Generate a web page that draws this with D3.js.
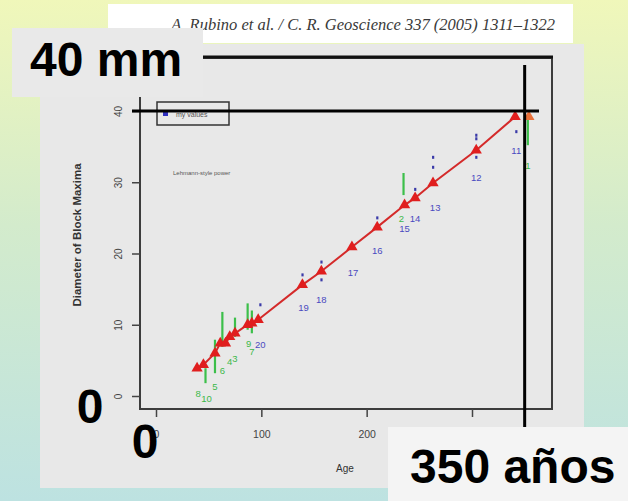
<!DOCTYPE html>
<html><head><meta charset="utf-8">
<script src="https://cdn.jsdelivr.net/npm/d3@7"></script>
<style>html,body{margin:0;padding:0;overflow:hidden;}svg{display:block;}</style>
</head><body>
<script>
// ---- data ----
const fitAge  = [39,45,56,61,66,70,75,87,91,97,139,157,186,210,236,246,263,304,341];
const fitDiam = [3.9,4.4,6.0,7.4,7.4,8.3,8.8,10.0,10.2,10.7,15.6,17.5,20.9,23.7,26.8,27.8,29.9,34.5,39.2];
const extraAge = [354];
const extraDiam = [39.2];
const greenAge = [353,235,47,56,63,75,87,91];
const greenTop = [39.2,31.3,3.9,7.9,11.8,11.0,13.0,12.0];
const greenBot = [35.2,28.2,1.8,3.2,6.9,8.3,9.3,8.8];
const blueLabels = ["11","12","13","14","15","16","17","18","19","20"];
const blueLabAge = [342,304,265,246,236,210,187,157,140,99];
const blueLabDiam = [34.5,30.6,26.4,24.9,23.5,20.4,17.4,13.5,12.4,7.2];
const greenLabels = ["1","2","3","4","5","6","7","8","9","10"];
const greenLabAge = [353,233,75,70,56,63,91,40,88,48];
const greenLabDiam = [32.4,24.9,5.3,4.8,1.3,3.6,6.2,0.4,7.4,-0.3];
const dotAge = [304,304,304,263,263,210,157,157,139,342,246,99];
const dotDiam = [36.6,36.1,33.5,33.5,32.1,25.0,18.8,16.3,17.0,37.1,29.0,12.8];
const xTicks = [0,100,200,300];
const yTicks = [0,10,20,30,40];
const markAge = 350, markDiam = 40;

const W = 628, H = 501;
const svg = d3.select("body").append("svg").attr("width", W).attr("height", H);
const defs = svg.append("defs");
const grad = defs.append("linearGradient").attr("id","bg").attr("x1",0).attr("y1",0).attr("x2",0).attr("y2",1);
grad.append("stop").attr("offset","0%").attr("stop-color","#f0f7ba");
grad.append("stop").attr("offset","45%").attr("stop-color","#d3ebcc");
grad.append("stop").attr("offset","100%").attr("stop-color","#bde2e1");
svg.append("rect").attr("width",W).attr("height",H).attr("fill","url(#bg)");

// header strip
svg.append("rect").attr("x",108).attr("y",4).attr("width",465).attr("height",39).attr("fill","#ffffff");
svg.append("text").attr("x",555).attr("y",30).attr("text-anchor","end")
  .attr("font-family","Liberation Serif").attr("font-style","italic").attr("font-size",16.5).attr("fill","#3a3a3a")
  .text("A. Rubino et al. / C. R. Geoscience 337 (2005) 1311–1322");

// panel
svg.append("rect").attr("x",40).attr("y",44).attr("width",544).attr("height",444).attr("fill","#e8e8e8");

const x = d3.scaleLinear().domain([0,300]).range([156,472]);
const y = d3.scaleLinear().domain([0,40]).range([396,111]);

// frame
svg.append("rect").attr("x",140).attr("y",58).attr("width",412).attr("height",351)
  .attr("fill","none").attr("stroke","#3c3c3c").attr("stroke-width",2);
svg.append("line").attr("x1",140).attr("x2",553).attr("y1",57).attr("y2",57).attr("stroke","#111").attr("stroke-width",3);

// axes
const ya = svg.append("g").attr("transform","translate(140,0)")
  .call(d3.axisLeft(y).tickValues(yTicks).tickSize(8).tickSizeOuter(0));
ya.select(".domain").remove();
ya.selectAll("line").attr("stroke","#444").attr("stroke-width",1.5);
ya.selectAll("text").attr("transform","rotate(-90)").attr("x",0).attr("y",-18).attr("dy",0)
  .attr("text-anchor","middle").attr("font-family","Liberation Sans").attr("font-size",10).attr("fill","#444");

const xa = svg.append("g").attr("transform","translate(0,409)")
  .call(d3.axisBottom(x).tickValues(xTicks).tickSize(8).tickSizeOuter(0));
xa.select(".domain").remove();
xa.selectAll("line").attr("stroke","#444").attr("stroke-width",1.5);
xa.selectAll("text").attr("y",22).attr("font-family","Liberation Sans").attr("font-size",10.5).attr("fill","#444");

svg.append("text").attr("x",345).attr("y",472).attr("text-anchor","middle")
  .attr("font-family","Liberation Sans").attr("font-size",10).attr("fill","#333").text("Age");
svg.append("text").attr("transform","translate(81,235) rotate(-90)").attr("text-anchor","middle")
  .attr("font-family","Liberation Sans").attr("font-weight","bold").attr("font-size",11.5).attr("fill","#333")
  .text("Diameter of Block Maxima");

// legend
svg.append("rect").attr("x",157).attr("y",102).attr("width",72).attr("height",23)
  .attr("fill","none").attr("stroke","#333").attr("stroke-width",1.5);
svg.append("rect").attr("x",163).attr("y",111).attr("width",5).attr("height",5).attr("fill","#3030c0");
svg.append("text").attr("x",176).attr("y",117).attr("font-family","Liberation Sans").attr("font-size",7).attr("fill","#555").text("my values");
svg.append("text").attr("x",173).attr("y",175).attr("font-family","Liberation Sans").attr("font-size",6).attr("fill","#555").text("Lehmann-style power");

// green bars
svg.append("g").selectAll("line").data(greenAge).join("line")
  .attr("x1",d=>x(d)).attr("x2",d=>x(d))
  .attr("y1",(d,i)=>y(greenTop[i])).attr("y2",(d,i)=>y(greenBot[i]))
  .attr("stroke","#3cbf4a").attr("stroke-width",2.2);

// fitted line
const pts = fitAge.map((a,i)=>[a,fitDiam[i]]);
svg.append("path").datum(pts)
  .attr("d", d3.line().x(d=>x(d[0])).y(d=>y(d[1])))
  .attr("fill","none").attr("stroke","#d42a2a").attr("stroke-width",2);

const tri = d3.symbol().type(d3.symbolTriangle).size(55);
svg.append("g").selectAll("path").data(pts).join("path")
  .attr("d",tri).attr("transform",d=>`translate(${x(d[0])},${y(d[1])})`).attr("fill","#e01e1e");
svg.append("g").selectAll("path").data(extraAge).join("path")
  .attr("d",tri).attr("transform",(d,i)=>`translate(${x(d)},${y(extraDiam[i])})`).attr("fill","#e8703a");

// blue dots
svg.append("g").selectAll("rect").data(dotAge).join("rect")
  .attr("x",d=>x(d)-1).attr("y",(d,i)=>y(dotDiam[i])-1.5).attr("width",2.2).attr("height",3)
  .attr("fill","#3a3aa8");

// labels
svg.append("g").selectAll("text").data(blueLabels).join("text")
  .attr("x",(d,i)=>x(blueLabAge[i])).attr("y",(d,i)=>y(blueLabDiam[i])+3.5).attr("text-anchor","middle")
  .attr("font-family","Liberation Sans").attr("font-size",9.5).attr("fill","#4a4ac0").text(d=>d);
svg.append("g").selectAll("text").data(greenLabels).join("text")
  .attr("x",(d,i)=>x(greenLabAge[i])).attr("y",(d,i)=>y(greenLabDiam[i])+3.5).attr("text-anchor","middle")
  .attr("font-family","Liberation Sans").attr("font-size",9.5).attr("fill","#3cb84a").text(d=>d);

// overlay marker lines
svg.append("line").attr("x1",132).attr("x2",539).attr("y1",y(markDiam)).attr("y2",y(markDiam))
  .attr("stroke","#000").attr("stroke-width",3);
svg.append("line").attr("x1",x(markAge)).attr("x2",x(markAge)).attr("y1",65).attr("y2",430)
  .attr("stroke","#000").attr("stroke-width",3);

// overlay boxes and big labels
svg.append("rect").attr("x",12).attr("y",28).attr("width",191).attr("height",69).attr("fill","#e9e9e9");
svg.append("text").attr("x",30).attr("y",76).attr("font-family","Liberation Sans").attr("font-weight","bold")
  .attr("font-size",48).attr("fill","#000").text("40 mm");
svg.append("rect").attr("x",388).attr("y",427).attr("width",240).attr("height",74).attr("fill","#f4f4f4");
svg.append("text").attr("x",410).attr("y",483).attr("font-family","Liberation Sans").attr("font-weight","bold")
  .attr("font-size",48).attr("fill","#000").text("350 años");
svg.append("text").attr("x",90).attr("y",423).attr("text-anchor","middle").attr("font-family","Liberation Sans").attr("font-weight","bold")
  .attr("font-size",48).attr("fill","#000").text("0");
svg.append("text").attr("x",145).attr("y",458).attr("text-anchor","middle").attr("font-family","Liberation Sans").attr("font-weight","bold")
  .attr("font-size",48).attr("fill","#000").text("0");
</script>
</body></html>
